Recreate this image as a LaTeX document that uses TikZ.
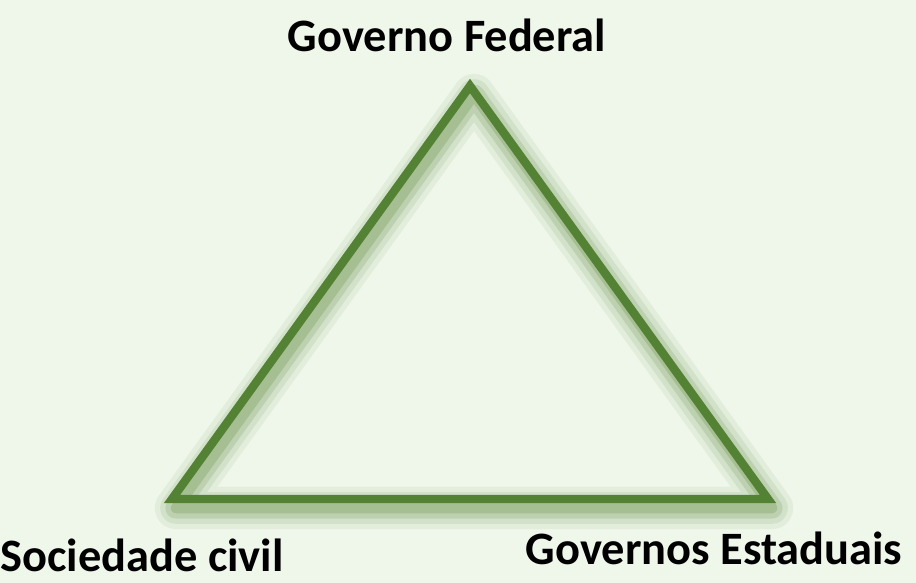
\documentclass[tikz,border=0pt]{standalone}
\usepackage{fontspec}
\setmainfont{Carlito}
\usepackage{xcolor}
\usetikzlibrary{calc}
\definecolor{bggreen}{HTML}{EFF6EA}
\definecolor{edgegreen}{HTML}{548235}
\definecolor{shadegreen}{HTML}{5E8C40}

\begin{document}
\begin{tikzpicture}[x=0.01cm, y=0.01cm,
	label/.style={font=\fontsize{13.2}{15}\selectfont\bfseries, inner sep=0pt},
	side/.style={edgegreen, line width=2.4pt, line join=miter},
	shade/.style={shadegreen, line join=round}]
	\fill[bggreen] (0,0) rectangle (916,583);
	\useasboundingbox (0,0) rectangle (916,583);
	\coordinate (fed) at (470,497);
	\coordinate (soc) at (172,84);
	\coordinate (est) at (768,84);
	% soft shadow below the edges
	\foreach \w/\o in {12/0.08, 9/0.12, 6/0.18, 3/0.25}
		\draw[shade, line width=\w pt, opacity=\o]
			($(fed)+(4,-9)$) -- ($(soc)+(4,-9)$) -- ($(est)+(4,-9)$) -- cycle;
	\draw[side] (fed) -- (soc) -- (est) -- cycle;
	\node[label] (federal) at (447,548) {Governo Federal};
	\node[label] (civil) at (142,28) {Sociedade civil};
	\node[label] (estaduais) at (714,35) {Governos Estaduais};
\end{tikzpicture}
\end{document}
